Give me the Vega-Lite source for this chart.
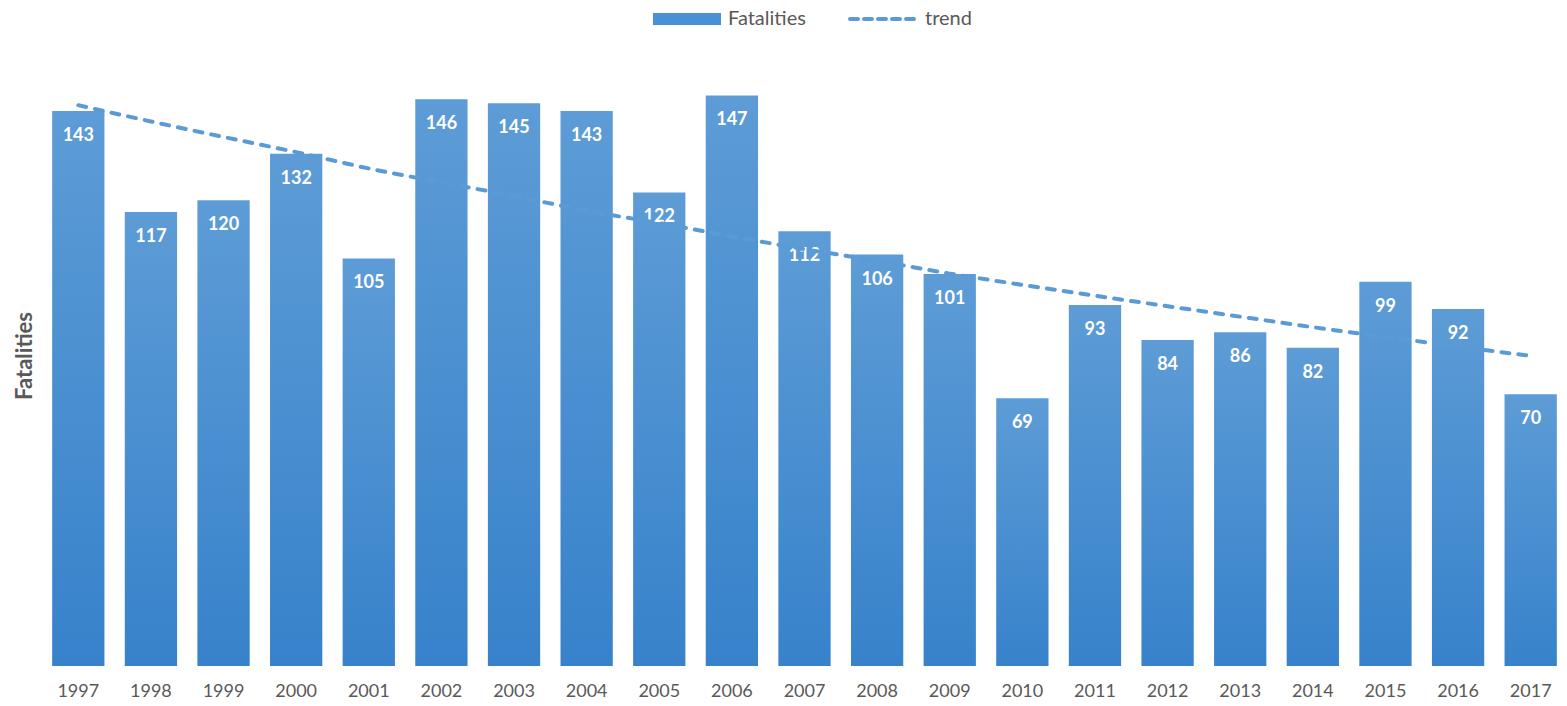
{
  "$schema": "https://vega.github.io/schema/vega-lite/v6.json",
  "autosize": "none",
  "width": 1525,
  "height": 621,
  "padding": {"left": 42, "top": 45, "right": 0, "bottom": 40},
  "background": "white",
  "config": {
    "view": {"stroke": null},
    "font": "Lato"
  },
  "datasets": {
    "bars": [
      {"year": "1997", "Fatalities": 143},
      {"year": "1998", "Fatalities": 117},
      {"year": "1999", "Fatalities": 120},
      {"year": "2000", "Fatalities": 132},
      {"year": "2001", "Fatalities": 105},
      {"year": "2002", "Fatalities": 146},
      {"year": "2003", "Fatalities": 145},
      {"year": "2004", "Fatalities": 143},
      {"year": "2005", "Fatalities": 122},
      {"year": "2006", "Fatalities": 147},
      {"year": "2007", "Fatalities": 112},
      {"year": "2008", "Fatalities": 106},
      {"year": "2009", "Fatalities": 101},
      {"year": "2010", "Fatalities": 69},
      {"year": "2011", "Fatalities": 93},
      {"year": "2012", "Fatalities": 84},
      {"year": "2013", "Fatalities": 86},
      {"year": "2014", "Fatalities": 82},
      {"year": "2015", "Fatalities": 99},
      {"year": "2016", "Fatalities": 92},
      {"year": "2017", "Fatalities": 70}
    ],
    "trend": [
      {"year": "1997", "Fatalities": 144.5, "series": "trend"},
      {"year": "1998", "Fatalities": 140.3, "series": "trend"},
      {"year": "1999", "Fatalities": 136.3, "series": "trend"},
      {"year": "2000", "Fatalities": 132.4, "series": "trend"},
      {"year": "2001", "Fatalities": 128.2, "series": "trend"},
      {"year": "2002", "Fatalities": 124.6, "series": "trend"},
      {"year": "2003", "Fatalities": 121.1, "series": "trend"},
      {"year": "2004", "Fatalities": 117.3, "series": "trend"},
      {"year": "2005", "Fatalities": 114.1, "series": "trend"},
      {"year": "2006", "Fatalities": 110.7, "series": "trend"},
      {"year": "2007", "Fatalities": 107.4, "series": "trend"},
      {"year": "2008", "Fatalities": 104.4, "series": "trend"},
      {"year": "2009", "Fatalities": 101.1, "series": "trend"},
      {"year": "2010", "Fatalities": 98.2, "series": "trend"},
      {"year": "2011", "Fatalities": 95.4, "series": "trend"},
      {"year": "2012", "Fatalities": 92.7, "series": "trend"},
      {"year": "2013", "Fatalities": 90.0, "series": "trend"},
      {"year": "2014", "Fatalities": 87.3, "series": "trend"},
      {"year": "2015", "Fatalities": 84.8, "series": "trend"},
      {"year": "2016", "Fatalities": 82.3, "series": "trend"},
      {"year": "2017", "Fatalities": 79.9, "series": "trend"}
    ]
  },
  "encoding": {
    "x": {
      "field": "year",
      "type": "nominal",
      "sort": null,
      "scale": {"paddingInner": 0.28, "paddingOuter": 0.14},
      "axis": {
        "title": null,
        "labelAngle": 0,
        "labelFontSize": 18,
        "labelColor": "#595959",
        "labelFont": "Lato",
        "ticks": false,
        "domain": false,
        "labelPadding": 16
      }
    },
    "y": {
      "field": "Fatalities",
      "type": "quantitative",
      "scale": {"domain": [0, 160], "nice": false, "zero": true},
      "axis": {
        "title": "Fatalities",
        "titleFontSize": 22,
        "titleFontWeight": "bold",
        "titleColor": "#595959",
        "titleFont": "Lato",
        "titlePadding": 6,
        "labels": false,
        "ticks": false,
        "domain": false,
        "grid": false
      }
    }
  },
  "layer": [
    {
      "data": {"name": "bars"},
      "mark": {
        "type": "bar",
        "color": {
          "gradient": "linear",
          "x1": 0, "y1": 0, "x2": 0, "y2": 1,
          "stops": [
            {"offset": 0, "color": "#5D9CD6"},
            {"offset": 1, "color": "#3782CB"}
          ]
        }
      }
    },
    {
      "data": {"name": "bars"},
      "mark": {
        "type": "text",
        "color": "white",
        "fontWeight": "bold",
        "fontSize": 18,
        "font": "Lato",
        "baseline": "middle",
        "dy": 25
      },
      "encoding": {"text": {"field": "Fatalities", "type": "quantitative"}}
    },
    {
      "data": {"name": "trend"},
      "mark": {
        "type": "line",
        "strokeWidth": 4,
        "strokeDash": [8, 9],
        "strokeCap": "round",
        "interpolate": "monotone"
      },
      "encoding": {
        "color": {
          "field": "series",
          "type": "nominal",
          "scale": {"domain": ["Fatalities", "trend"], "range": ["#4A90D6", "#5B9BD5"]},
          "legend": {
            "title": null,
            "orient": "none",
            "direction": "horizontal",
            "legendX": 635,
            "legendY": -36,
            "padding": 0,
            "symbolSize": 4624,
            "labelFontSize": 20,
            "labelFont": "Lato",
            "labelColor": "#595959",
            "labelOffset": 31,
            "columnPadding": 36,
            "encode": {
              "symbols": {
                "update": {
                  "shape": {"signal": "datum.value === 'trend' ? 'M-1,0L1,0' : 'M-1,-0.18L1,-0.18L1,0.18L-1,0.18Z'"},
                  "fill": {"signal": "datum.value === 'trend' ? 'transparent' : '#4A90D6'"},
                  "stroke": {"value": "#5B9BD5"},
                  "strokeWidth": {"signal": "datum.value === 'trend' ? 4 : 0"},
                  "strokeDash": {"signal": "datum.value === 'trend' ? [8, 6] : [1, 0]"},
                  "strokeCap": {"value": "round"},
                  "opacity": {"value": 1}
                }
              }
            }
          }
        }
      }
    }
  ]
}
